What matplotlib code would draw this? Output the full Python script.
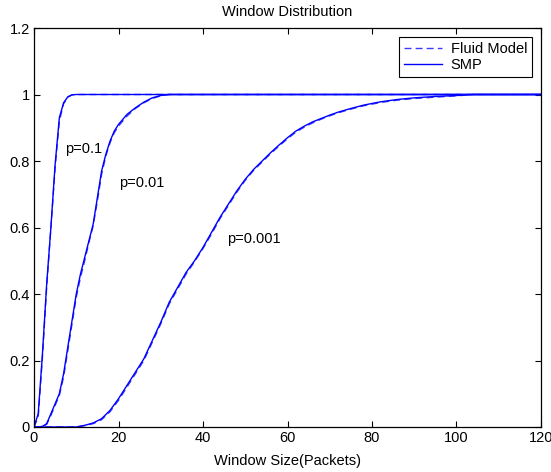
import matplotlib
matplotlib.use("Agg")
import matplotlib.pyplot as plt
from matplotlib.ticker import FuncFormatter

plt.rcParams['font.family'] = ['Liberation Sans', 'DejaVu Sans']

# p = 0.1
x_p1 = [0, 1, 2, 3, 4, 5, 6, 7, 8, 9, 10, 120]
smp_p1 = [0, 0.04, 0.22, 0.43, 0.6, 0.79, 0.93, 0.975, 0.993, 0.999, 1.0, 1.0]
fluid_p1 = [0, 0.03, 0.21, 0.42, 0.6, 0.78, 0.92, 0.972, 0.992, 0.999, 1.0, 1.0]

# p = 0.01
x_p2 = [0, 1, 2, 3, 4, 5, 6, 7, 8, 9, 10, 11, 12, 13, 14, 15, 16, 17, 18, 19, 20,
        22, 24, 26, 28, 30, 32, 120]
smp_p2 = [0, 0, 0.002, 0.01, 0.04, 0.07, 0.1, 0.16, 0.24, 0.32, 0.4, 0.46, 0.51,
          0.56, 0.61, 0.69, 0.77, 0.82, 0.86, 0.89, 0.91, 0.94, 0.96, 0.977, 0.99,
          0.997, 1.0, 1.0]
fluid_p2 = [0, 0, 0.001, 0.008, 0.035, 0.065, 0.095, 0.15, 0.23, 0.31, 0.39, 0.45,
            0.5, 0.555, 0.605, 0.68, 0.76, 0.815, 0.855, 0.885, 0.905, 0.935, 0.958,
            0.975, 0.988, 0.996, 1.0, 1.0]

# p = 0.001
x_p3 = [0, 5, 10, 12, 14, 16, 18, 20, 22, 24, 26, 28, 30, 32, 34, 36, 38, 40, 42, 44,
        46, 48, 50, 52, 54, 56, 58, 60, 62, 64, 66, 68, 70, 72, 75, 78, 82, 86, 90,
        95, 100, 104, 120]
smp_p3 = [0, 0, 0.0, 0.005, 0.012, 0.025, 0.05, 0.085, 0.125, 0.165, 0.205, 0.26,
          0.315, 0.375, 0.42, 0.465, 0.5, 0.54, 0.585, 0.63, 0.67, 0.71, 0.745, 0.775,
          0.8, 0.825, 0.848, 0.87, 0.89, 0.905, 0.918, 0.928, 0.938, 0.947, 0.958,
          0.968, 0.978, 0.985, 0.99, 0.994, 0.997, 1.0, 1.0]
fluid_p3 = [0, 0, 0.0, 0.004, 0.01, 0.022, 0.046, 0.08, 0.12, 0.16, 0.2, 0.255, 0.31,
            0.37, 0.415, 0.46, 0.497, 0.537, 0.58, 0.626, 0.666, 0.706, 0.742, 0.772,
            0.797, 0.822, 0.845, 0.867, 0.887, 0.902, 0.915, 0.926, 0.936, 0.945,
            0.956, 0.966, 0.976, 0.983, 0.988, 0.992, 0.996, 1.0, 1.0]

labels = ["p=0.1", "p=0.01", "p=0.001"]
label_pos = [(7.4, 0.835), (20.2, 0.735), (45.8, 0.565)]

fig = plt.figure(figsize=(5.51, 4.72), dpi=100)
ax = fig.add_axes([34/551, 45/472, 507/551, 399/472])

fs = 10.5
series = [(x_p1, fluid_p1, smp_p1), (x_p2, fluid_p2, smp_p2), (x_p3, fluid_p3, smp_p3)]
for i, (xs, fl, sm) in enumerate(series):
    ax.plot(xs, fl, color='#3a3aff', linestyle=(0, (5, 3)), linewidth=1.0,
            label='Fluid Model' if i == 0 else None)
    ax.plot(xs, sm, color='#0000ff', linestyle='-', linewidth=1.0,
            label='SMP' if i == 0 else None)

for t, (tx, ty) in zip(labels, label_pos):
    ax.text(tx, ty, t, fontsize=fs, ha='left', va='center')

ax.set_xlim(0, 120)
ax.set_ylim(0, 1.2)
ax.set_xticks([0, 20, 40, 60, 80, 100, 120])
ax.set_yticks([0, 0.2, 0.4, 0.6, 0.8, 1.0, 1.2])
ax.yaxis.set_major_formatter(FuncFormatter(lambda v, p: f"{v:g}"))
ax.tick_params(direction='in', top=True, right=True, labelsize=fs, length=4,
               width=0.8, pad=3)
for s in ax.spines.values():
    s.set_linewidth(0.9)

ax.set_title("Window Distribution", fontsize=fs, pad=9)
ax.set_xlabel("Window Size(Packets)", fontsize=fs, labelpad=6)

leg = ax.legend(loc='upper right', fontsize=fs, frameon=True, fancybox=False,
                edgecolor='black', framealpha=1, borderaxespad=0.6,
                handlelength=2.6, handletextpad=0.6, borderpad=0.35,
                labelspacing=0.15)
leg.get_frame().set_linewidth(0.8)

fig.savefig("out.png", dpi=100)
